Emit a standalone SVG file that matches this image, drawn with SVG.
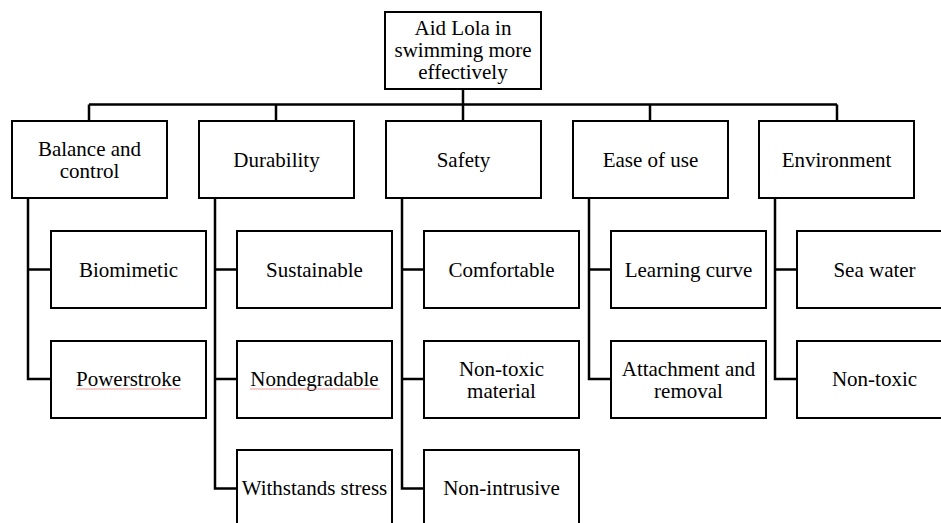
<svg xmlns="http://www.w3.org/2000/svg" width="941" height="523" viewBox="0 0 941 523">
<style>
.box{fill:#fff;stroke:#000;stroke-width:2}
.t{font-size:21px;fill:#000;text-anchor:middle}
.c{fill:none;stroke:#000;stroke-width:2.5}
.sp{fill:none;stroke:#f08080;stroke-width:1;opacity:0.8}
</style>
<rect width="941" height="523" fill="#fff"/>
<g id="connectors">
<path class="c" d="M463,89 V121 M89,104.5 H837 M89,104.5 V121 M276,104.5 V121 M650,104.5 V121 M837,104.5 V121"/>
<path class="c" d="M28,198 V379 H51 M28,269.5 H51"/>
<path class="c" d="M215,198 V488.5 H237 M215,269.5 H237 M215,379 H237"/>
<path class="c" d="M402,198 V488.5 H424 M402,269.5 H424 M402,379 H424"/>
<path class="c" d="M589,198 V379 H611 M589,269.5 H611"/>
<path class="c" d="M775,198 V379 H797 M775,269.5 H797"/>
</g>
<g font-family="'Liberation Serif', 'Times New Roman', 'DejaVu Serif', serif">
<g id="root"><rect class="box" x="385" y="12" width="156" height="77"/>
<text class="t" x="463" y="34.5">Aid Lola in</text><text class="t" x="463" y="56.5">swimming more</text><text class="t" x="463" y="78.5">effectively</text></g>
<g id="balance"><rect class="box" x="12" y="121" width="155" height="77"/>
<text class="t" x="89.5" y="155.5">Balance and</text><text class="t" x="89.5" y="177.5">control</text></g>
<g id="durability"><rect class="box" x="199" y="121" width="155" height="77"/>
<text class="t" x="276.5" y="167">Durability</text></g>
<g id="safety"><rect class="box" x="386" y="121" width="155" height="77"/>
<text class="t" x="463.5" y="167">Safety</text></g>
<g id="ease"><rect class="box" x="573" y="121" width="155" height="77"/>
<text class="t" x="650.5" y="167">Ease of use</text></g>
<g id="environment"><rect class="box" x="759" y="121" width="155" height="77"/>
<text class="t" x="836.5" y="167">Environment</text></g>
<g id="biomimetic"><rect class="box" x="51" y="231" width="155" height="77"/>
<text class="t" x="128.5" y="276.5">Biomimetic</text></g>
<g id="powerstroke"><rect class="box" x="51" y="341" width="155" height="77"/>
<text class="t" x="128.5" y="386">Powerstroke</text>
<path class="sp" d="M76,389 H181"/></g>
<g id="sustainable"><rect class="box" x="237" y="231" width="155" height="77"/>
<text class="t" x="314.5" y="276.5">Sustainable</text></g>
<g id="nondegradable"><rect class="box" x="237" y="341" width="155" height="77"/>
<text class="t" x="314.5" y="386">Nondegradable</text>
<path class="sp" d="M250,389 H380"/></g>
<g id="withstands"><rect class="box" x="237" y="450" width="155" height="77"/>
<text class="t" x="314.5" y="495">Withstands stress</text></g>
<g id="comfortable"><rect class="box" x="424" y="231" width="155" height="77"/>
<text class="t" x="501.5" y="276.5">Comfortable</text></g>
<g id="nontoxicmaterial"><rect class="box" x="424" y="341" width="155" height="77"/>
<text class="t" x="501.5" y="375.5">Non-toxic</text><text class="t" x="501.5" y="397.5">material</text></g>
<g id="nonintrusive"><rect class="box" x="424" y="450" width="155" height="77"/>
<text class="t" x="501.5" y="495">Non-intrusive</text></g>
<g id="learning"><rect class="box" x="611" y="231" width="155" height="77"/>
<text class="t" x="688.5" y="276.5">Learning curve</text></g>
<g id="attachment"><rect class="box" x="611" y="341" width="155" height="77"/>
<text class="t" x="688.5" y="375.5">Attachment and</text><text class="t" x="688.5" y="397.5">removal</text></g>
<g id="seawater"><rect class="box" x="797" y="231" width="155" height="77"/>
<text class="t" x="874.5" y="276.5">Sea water</text></g>
<g id="nontoxic"><rect class="box" x="797" y="341" width="155" height="77"/>
<text class="t" x="874.5" y="386">Non-toxic</text></g>
</g>
</svg>
